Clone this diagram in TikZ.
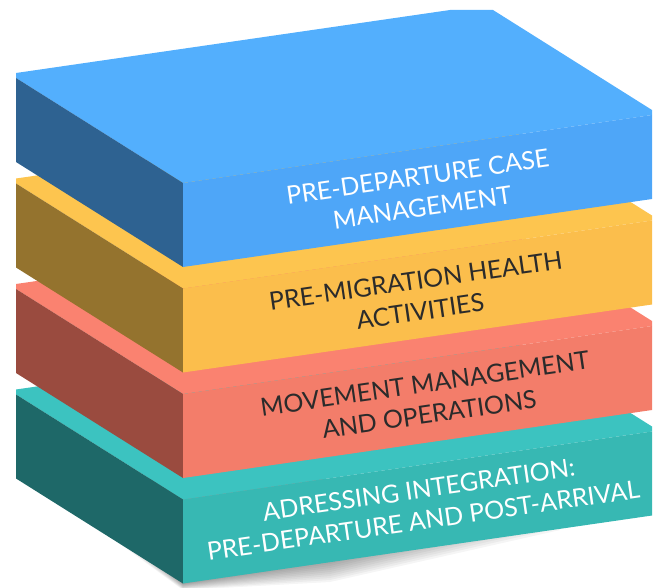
\documentclass[tikz,border=0pt]{standalone}
\usepackage{fontspec}
\setmainfont{Lato}
\definecolor{bTop}{HTML}{53AFFD}
\definecolor{bFront}{HTML}{4EA6F8}
\definecolor{bLeft}{HTML}{2E6291}
\definecolor{yTop}{HTML}{FDC54F}
\definecolor{yFront}{HTML}{FBBE4C}
\definecolor{yLeft}{HTML}{94732E}
\definecolor{rTop}{HTML}{FA8270}
\definecolor{rFront}{HTML}{F37D6A}
\definecolor{rLeft}{HTML}{9A4B3F}
\definecolor{tTop}{HTML}{3CC3C0}
\definecolor{tFront}{HTML}{37B8B3}
\definecolor{tLeft}{HTML}{1E6868}
\definecolor{darktext}{HTML}{2B2B2B}
\newcommand\drawslab[4]{%
  \pgfmathsetmacro\ya{#1}%
  \pgfmathsetmacro\yb{#1+105}%
  \pgfmathsetmacro\yc{#1+105-68}%
  \pgfmathsetmacro\yd{#1-68}%
  \fill[#2] (16,\ya) -- (16,\ya+5) -- (183,\yb+5) -- (652,\yc+5) -- (652,\yc) -- (485,\yd) -- cycle;
  \fill[#4] (16,\ya+5) -- (183,\yb+5) -- (183,\yb+89) -- (16,\ya+89) -- cycle;
  \fill[#3] (183,\yb+5) -- (652,\yc+5) -- (652,\yc+89) -- (183,\yb+89) -- cycle;
}
\tikzset{
  slabtext/.style={align=center, font=\fontsize{25}{31}\selectfont, rotate=8.25, inner sep=0pt},
  whitetext/.style={slabtext, text=white},
  darkslabtext/.style={slabtext, text=darktext},
}
\begin{document}
\begin{tikzpicture}[x=1pt,y=-1pt]
\useasboundingbox (0,0) rectangle (661,588);
% shadow under the stack
\foreach \i in {0,...,11}{
  \fill[black, opacity=0.04] (30+\i*2.5,478) -- (183,590-\i*0.6) -- (330,582-\i*2) -- (560-\i*6,530-\i) -- (560,480) -- cycle;
}
% slabs, bottom to top
\drawslab{389.5}{tTop}{tFront}{tLeft}
\drawslab{284}{rTop}{rFront}{rLeft}
\drawslab{178.5}{yTop}{yFront}{yLeft}
% top slab (clipped at top edge)
\fill[bTop] (16,73) -- (450,10) -- (493,10) -- (652,110) -- (652,115) -- (183,183) -- (16,78) -- cycle;
\fill[bLeft] (16,78) -- (183,183) -- (183,267) -- (16,162) -- cycle;
\fill[bFront] (183,183) -- (652,115) -- (652,199) -- (183,267) -- cycle;
% labels
\node[whitetext] (l1) at (420,192) {PRE-DEPARTURE CASE\\MANAGEMENT};
\node[darkslabtext] (l2) at (418,296) {PRE-MIGRATION HEALTH\\ACTIVITIES};
\node[darkslabtext] (l3) at (427,399) {MOVEMENT MANAGEMENT\\AND OPERATIONS};
\node[whitetext] (l4) at (421,505) {ADRESSING INTEGRATION:\\PRE-DEPARTURE AND POST-ARRIVAL};
\end{tikzpicture}
\end{document}
